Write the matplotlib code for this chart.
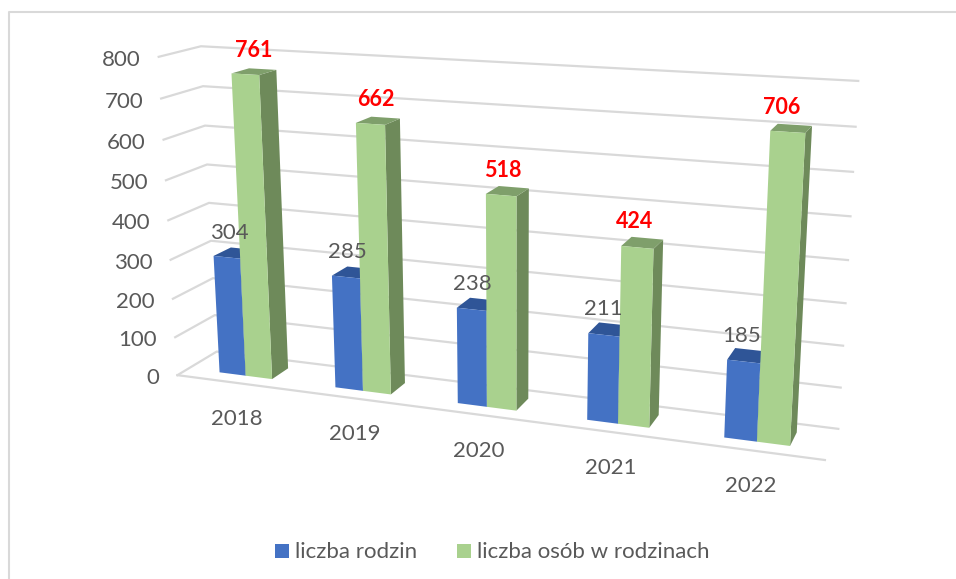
import numpy as np
import matplotlib
matplotlib.use("Agg")
import matplotlib.pyplot as plt

plt.rcParams['font.family'] = ['Lato', 'DejaVu Sans']

years = ['2018', '2019', '2020', '2021', '2022']
families = [304, 285, 238, 211, 185]
people = [761, 662, 518, 424, 706]
ticks = [0, 100, 200, 300, 400, 500, 600, 700, 800]
series_names = ['liczba rodzin', 'liczba osób w rodzinach']

BLUE = ['#4472C4', '#2F5597', '#2F5597']
GREEN = ['#A9D18E', '#7F9F6B', '#6E8A5A']
GRID = '#D9D9D9'
TEXT = '#595959'

# picture position of known box points: (across, depth, value) -> (px, py)
anchors = [
    ((0, 0, 0), (178, 375)),
    ((0, 0, 800), (158, 57)),
    ((0, 1, 800), (202, 46)),
    ((0, 1, 300), (210, 241)),
    ((1, 1, 800), (858, 81)),
    ((1, 1, 300), (846, 303)),
    ((1, 1, 0), (838, 429)),
    ((1, 0, 0), (825, 460)),
]

# direct linear transform, least squares fit
rows = []
rhs = []
for (u, v, w), (px, py) in anchors:
    w = w / 800
    rows.append([u, v, w, 1, 0, 0, 0, 0, -px * u, -px * v, -px * w])
    rhs.append(px)
    rows.append([0, 0, 0, 0, u, v, w, 1, -py * u, -py * v, -py * w])
    rhs.append(py)
sol = np.linalg.lstsq(np.array(rows, float), np.array(rhs, float), rcond=None)[0]
P = np.append(sol, 1).reshape(3, 4)


def project(u, v, w):
    p = P @ np.array([u, v, w / 800, 1])
    return p[0] / p[2], p[1] / p[2]


def quad(ax, pts, color, z):
    xy = [project(*p) for p in pts]
    ax.fill([a[0] for a in xy], [a[1] for a in xy], color=color, lw=0, zorder=z)


def bar(ax, u0, u1, val, cols, z):
    v0, v1 = 0.28, 0.72
    # side, top, front
    quad(ax, [(u1, v0, 0), (u1, v1, 0), (u1, v1, val), (u1, v0, val)], cols[2], z)
    quad(ax, [(u0, v0, val), (u1, v0, val), (u1, v1, val), (u0, v1, val)], cols[1], z)
    quad(ax, [(u0, v0, 0), (u1, v0, 0), (u1, v0, val), (u0, v0, val)], cols[0], z)


fig = plt.figure(figsize=(9.56, 5.79), dpi=100)
ax = fig.add_axes([0, 0, 1, 1])
ax.set_xlim(0, 956)
ax.set_ylim(579, 0)
ax.axis('off')

# outer frame, only left and top show in the crop
ax.plot([9, 9, 956], [579, 12, 12], color=GRID, lw=1.5, zorder=1)

# gridlines on side and back walls
for t in ticks:
    a = project(0, 0, t)
    b = project(0, 1, t)
    c = project(1, 1, t)
    ax.plot([a[0], b[0], c[0]], [a[1], b[1], c[1]], color=GRID, lw=1.6, zorder=2)
    ax.text(a[0] - 18, a[1] + 3, str(t), ha='right', va='center', fontsize=16, color=TEXT)

# front floor edge
a = project(0, 0, 0)
d = project(1, 0, 0)
ax.plot([a[0], d[0]], [a[1], d[1]], color=GRID, lw=1.6, zorder=2)

n = len(years)
bar_w = 0.046
for i in range(n):
    mid = (i + 0.5) / n + 0.001
    bar(ax, mid - bar_w, mid, families[i], BLUE, 3 + i)
    bar(ax, mid, mid + bar_w, people[i], GREEN, 3.5 + i)

    x, y = project(mid - bar_w / 2, 0.5, families[i])
    ax.text(x - 6, y - 20, str(families[i]), ha='center', va='center', fontsize=16, color=TEXT, zorder=20)
    x, y = project(mid + bar_w / 2, 0.5, people[i])
    ax.text(x + 1.25 - 12.5 * mid, y - 21, str(people[i]), ha='center', va='center', fontsize=15.5, color='#FF0000', fontweight='bold', zorder=20)
    x, y = project(mid - bar_w / 2, 0, 0)
    ax.text(x + 15, y + 38, years[i], ha='center', va='center', fontsize=16, color=TEXT)

# legend
ax.fill([275, 289, 289, 275], [544, 544, 558, 558], color=BLUE[0], lw=0)
ax.text(295, 552, series_names[0], va='center', fontsize=16, color=TEXT)
ax.fill([457, 471, 471, 457], [544, 544, 558, 558], color=GREEN[0], lw=0)
ax.text(477, 552, series_names[1], va='center', fontsize=16, color=TEXT)

fig.savefig('out.png', dpi=100)
